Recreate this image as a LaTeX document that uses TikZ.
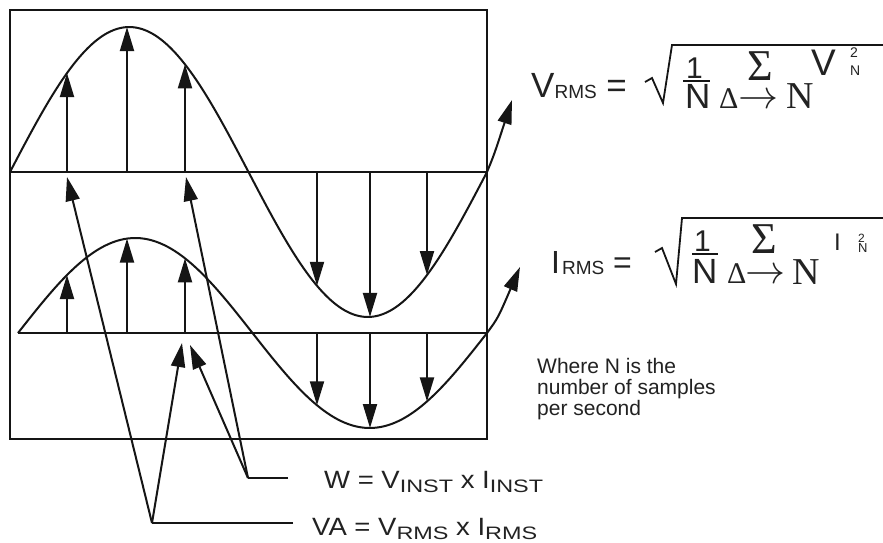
\RequirePackage{fix-cm}
\documentclass[tikz,border=0pt]{standalone}
\usepackage{fontspec}
\setmainfont{Liberation Sans}
\newfontfamily\serf{Liberation Serif}
\newfontfamily\lblfont[FakeStretch=1.1]{Liberation Sans}
\newfontfamily\lsubfont[FakeStretch=1.3]{Liberation Sans}
\usetikzlibrary{arrows.meta}
\definecolor{ink}{HTML}{151515}
\definecolor{txtc}{HTML}{222222}
\newcommand\fsz[1]{\fontsize{#1}{#1}\selectfont}
\newcommand\lsub[1]{\raisebox{-4pt}{\lsubfont\fsz{18}#1}}
\newcommand\fsub[1]{\raisebox{-1pt}{\fsz{19}#1}}
\begin{document}
\begin{tikzpicture}[x=1pt,y=-1pt,
  ln/.style={line width=2pt,draw=ink},
  boxline/.style={line width=2.6pt,draw=ink},
  arr/.style={line width=2pt,draw=ink,-{Triangle[length=24pt,width=14pt]}},
  txt/.style={inner sep=0pt,text=txtc}]
\fill[white] (0,0) rectangle (883,542);
\useasboundingbox (0,0) rectangle (883,542);

% frame and axes
\draw[boxline] (10,10) rectangle (487,439);
\coordinate (vaxL) at (10,172);  \coordinate (vaxR) at (487,172);
\coordinate (caxL) at (18,333);  \coordinate (caxR) at (487,333);
\draw[boxline] (vaxL) -- (vaxR);
\draw[boxline] (caxL) -- (caxR);

% waves
\draw[ln] plot[domain=10:487,samples=120,smooth] (\x,{172-145*sin((\x-10)/477*360)});
\draw[ln] plot[domain=18:487,samples=120,smooth] (\x,{333-95*sin((\x-18)/469*360)});
\coordinate (vtipR) at (512,100);
\coordinate (ctipR) at (520,267);
\draw[arr] (vaxR) .. controls (494,155) .. (vtipR);
\draw[arr] (caxR) .. controls (498,318) .. (ctipR);

% sample arrows
\foreach \i/\xx in {1/67,2/127,3/185,4/317,5/370,6/427}{
  \coordinate (vb\i) at (\xx,172);
  \coordinate (vt\i) at (\xx,{172-145*sin((\xx-10)/477*360)});
  \coordinate (cb\i) at (\xx,333);
  \coordinate (ct\i) at (\xx,{333-95*sin((\xx-18)/469*360)});
  \draw[arr] (vb\i) -- (vt\i);
  \draw[arr] (cb\i) -- (ct\i);
}

% pointer arrows
\coordinate (vaV) at (152,523); \coordinate (vaE) at (293,523);
\coordinate (wV) at (248,478);  \coordinate (wE) at (288,478);
\coordinate (s1) at (67,177);   \coordinate (s2) at (182,343);
\coordinate (s3) at (186,177);  \coordinate (s4) at (190,345);
\draw[ln] (vaE) -- (vaV);
\draw[ln] (wE) -- (wV);
\draw[arr] (vaV) -- (s1);
\draw[arr] (vaV) -- (s2);
\draw[arr] (wV) -- (s3);
\draw[arr] (wV) -- (s4);

% bottom labels
\node[txt,anchor=base west] (wlab) at (324,488) {\lblfont\fsz{25}W = V\lsub{INST} x I\lsub{INST}};
\node[txt,anchor=base west] (valab) at (312,535) {\lblfont\fsz{25}VA = V\lsub{RMS} x I\lsub{RMS}};

% formula 1
\node[txt,anchor=base west] (f1l) at (531,97) {\fsz{35}V\fsub{RMS} =};
\draw[line width=1.8pt,draw=ink,line join=miter] (645,82) -- (652,78) -- (663,103) -- (672,45) -- (883,45);
\node[txt,anchor=base west] (f1one) at (686,78) {\fsz{30}1};
\draw[line width=2pt,draw=ink] (683,81) -- (710,81);
\node[txt,anchor=base west] (f1N) at (685,108) {\fsz{35}N};
\node[txt,anchor=base west] (f1sum) at (747,80) {\serf\fsz{44}Σ};
\node[txt,anchor=base west] (f1d) at (719,108) {\serf\fsz{30}Δ};
\node[txt,anchor=base west] (f1ar) at (738,108) {\fsz{40}$\rightarrow$};
\node[txt,anchor=base west] (f1n2) at (786,108) {\serf\fsz{38}N};
\node[txt,anchor=base west] (f1V) at (811,75) {\fsz{37}V};
\node[txt,anchor=base west] (f1sq) at (850,57) {\fsz{14}2};
\node[txt,anchor=base west] (f1sn) at (850,75) {\fsz{14}N};

% formula 2
\node[txt,anchor=base west] (f2l) at (551,273) {\fsz{32}I\kern2pt\fsub{RMS} =};
\draw[line width=1.8pt,draw=ink,line join=miter] (655,252) -- (662,248) -- (676,284) -- (682,218) -- (883,218);
\node[txt,anchor=base west] (f2one) at (694,251) {\fsz{30}1};
\draw[line width=2pt,draw=ink] (692,254) -- (718,254);
\node[txt,anchor=base west] (f2N) at (692,283) {\fsz{35}N};
\node[txt,anchor=base west] (f2sum) at (751,253) {\serf\fsz{44}Σ};
\node[txt,anchor=base west] (f2d) at (727,283) {\serf\fsz{30}Δ};
\node[txt,anchor=base west] (f2ar) at (745,283) {\fsz{40}$\rightarrow$};
\node[txt,anchor=base west] (f2n2) at (792,284) {\serf\fsz{38}N};
\node[txt,anchor=base west] (f2I) at (834,250) {\fsz{24}I};
\node[txt,anchor=base west] (f2sq) at (858,242) {\fsz{12}2};
\node[txt,anchor=base west] (f2sn) at (858,252) {\fsz{13}N};

% note
\node[txt,anchor=north west,align=left,font=\fsz{21}] (note) at (537,358)
  {\fontsize{21}{25}\selectfont Where N is the\\number of samples\\per second};
\end{tikzpicture}
\end{document}
